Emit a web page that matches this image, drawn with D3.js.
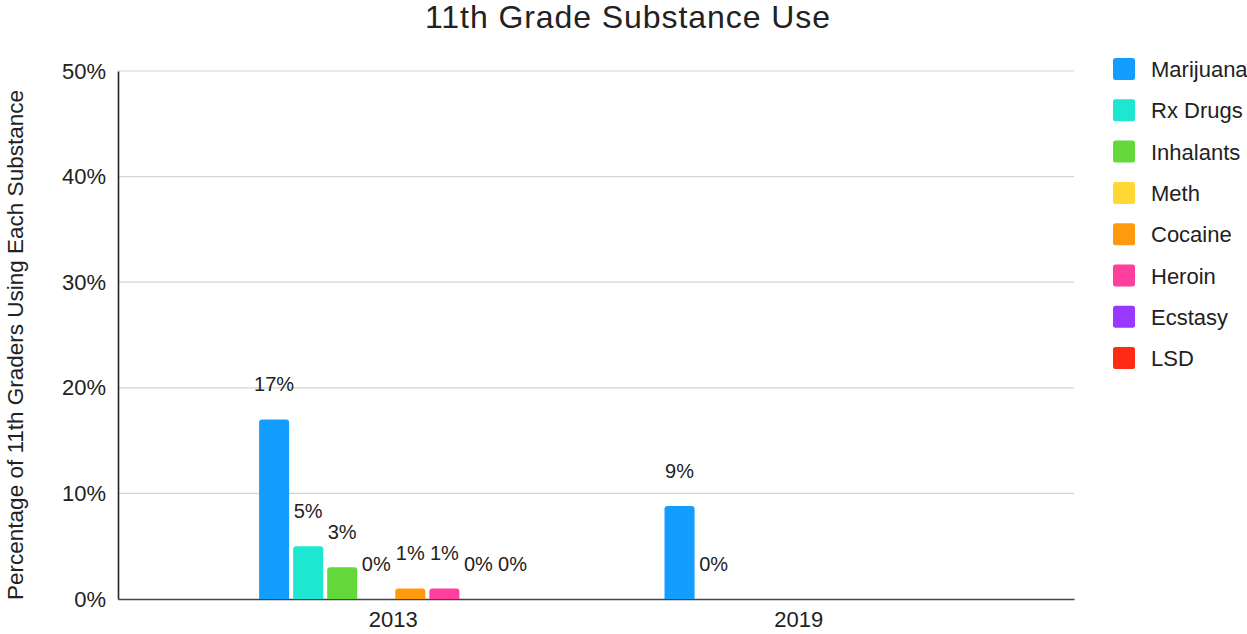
<!DOCTYPE html>
<html><head><meta charset="utf-8">
<script src="https://cdn.jsdelivr.net/npm/d3@7"></script>
<style>body{margin:0;background:#fff;} svg{display:block;font-family:"Liberation Sans",Arial,Helvetica,sans-serif;}</style>
</head><body>
<svg id="c" width="1247" height="634"></svg>
<script>
const years = ["2013", "2019"];
const substances = ["Marijuana","Rx Drugs","Inhalants","Meth","Cocaine","Heroin","Ecstasy","LSD"];
const colors = ["#139dff","#1de6d1","#62d83a","#ffd834","#ff9a0c","#ff3f9e","#9b38ff","#ff2b12"];
const values2013 = [17, 5, 3, 0, 1, 1, 0, 0];
const values2019 = [8.8, 0, null, null, null, null, null, null];
const yTicks = [0, 10, 20, 30, 40, 50];

const svg = d3.select("#c");
const L = 118, R = 1074, T = 71, B = 599;
const x0 = d3.scaleBand().domain(years).range([L, R]).paddingInner(0.338).paddingOuter(0.348);
const x1 = d3.scaleBand().domain(substances).range([0, x0.bandwidth()]).paddingInner(0.118).paddingOuter(0);
const y = d3.scaleLinear().domain([0, 50]).range([B, T]);
const color = d3.scaleOrdinal().domain(substances).range(colors);
const FONT = "Liberation Sans, Arial, sans-serif";

// gridlines
svg.append("g").selectAll("line").data(yTicks.filter(d=>d>0)).join("line")
  .attr("x1", L).attr("x2", R).attr("y1", d=>y(d)).attr("y2", d=>y(d))
  .attr("stroke", "#d4d4d4").attr("stroke-width", 1.2);

// y axis
const yAxis = svg.append("g").attr("transform", `translate(${L},0)`)
  .call(d3.axisLeft(y).tickValues(yTicks).tickFormat(d=>d+"%").tickSize(0).tickPadding(12));
yAxis.select(".domain").attr("stroke", "#222").attr("stroke-width", 1.6);
yAxis.selectAll("text").attr("font-size", 22).attr("fill", "#222").attr("font-family", FONT);

// x axis
const xAxis = svg.append("g").attr("transform", `translate(0,${B})`)
  .call(d3.axisBottom(x0).tickSize(0).tickPadding(12));
xAxis.select(".domain").attr("stroke", "#444").attr("stroke-width", 1.6);
xAxis.selectAll("text").attr("font-size", 22).attr("fill", "#222").attr("font-family", FONT);

// bars
const data = years.map((yr, i) => ({year: yr, vals: substances.map((s, j) => ({s, v: (i===0?values2013:values2019)[j]}))}));
const groups = svg.append("g").selectAll("g").data(data).join("g")
  .attr("transform", d => `translate(${x0(d.year)},0)`);

function topRounded(x, yTop, w, h, r) {
  if (h <= 0) return "";
  r = Math.min(r, h, w/2);
  return `M${x},${yTop+h}V${yTop+r}Q${x},${yTop} ${x+r},${yTop}H${x+w-r}Q${x+w},${yTop} ${x+w},${yTop+r}V${yTop+h}Z`;
}
groups.selectAll("path").data(d => d.vals.filter(e => e.v !== null && e.v > 0)).join("path")
  .attr("d", e => topRounded(x1(e.s), y(e.v), x1.bandwidth(), B - y(e.v), 3))
  .attr("fill", e => color(e.s));
groups.selectAll("text").data(d => d.vals.filter(e => e.v !== null)).join("text")
  .attr("x", e => x1(e.s) + x1.bandwidth()/2)
  .attr("y", e => y(e.v) - 28)
  .attr("text-anchor", "middle").attr("font-size", 20).attr("fill", "#222")
  .text(e => Math.round(e.v) + "%");

// title
svg.append("text").attr("x", 627.5).attr("y", 28).attr("text-anchor", "middle")
  .attr("font-size", 32).attr("fill", "#222")
  .attr("textLength", 405).attr("lengthAdjust", "spacing")
  .text("11th Grade Substance Use");

// y label
svg.append("text").attr("transform", `translate(23,345) rotate(-90)`)
  .attr("text-anchor", "middle").attr("font-size", 22.5).attr("fill", "#222")
  .text("Percentage of 11th Graders Using Each Substance");

// legend
const lg = svg.append("g").selectAll("g").data(substances).join("g")
  .attr("transform", (d, i) => `translate(1113,${58 + i*41.3})`);
lg.append("rect").attr("width", 22).attr("height", 22).attr("rx", 2.5).attr("fill", d => color(d));
lg.append("text").attr("x", 38).attr("y", 19).attr("font-size", 22).attr("fill", "#222").text(d => d);
</script>
</body></html>
